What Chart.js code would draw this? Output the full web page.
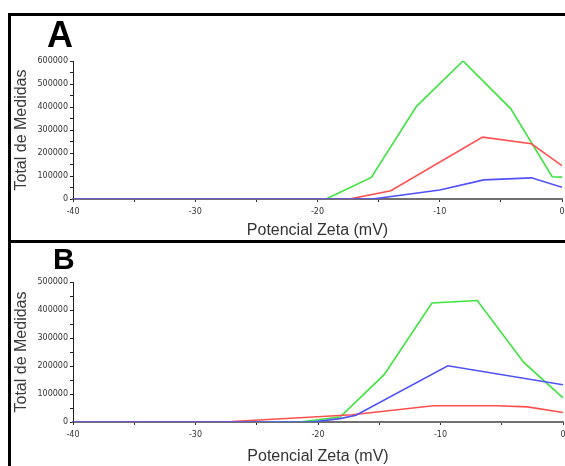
<!DOCTYPE html>
<html>
<head>
<meta charset="utf-8">
<script src="https://cdn.jsdelivr.net/npm/chart.js@4.4.1/dist/chart.umd.min.js"></script>
<style>
  body { margin: 0; background: #fff; width: 565px; height: 466px; overflow: hidden; position: relative; font-family: "Liberation Sans", Arial, sans-serif; }
  .line { position: absolute; background: #000; }
  .panel { position: absolute; left: 11px; }
  .tag { position: absolute; font-weight: bold; color: #000; line-height: 1; }
</style>
</head>
<body>
<div class="line" style="left:8px;top:13px;width:557px;height:3px"></div>
<div class="line" style="left:8px;top:240px;width:557px;height:3px"></div>
<div class="line" style="left:8px;top:13px;width:3px;height:453px"></div>

<!-- canvases run a little past the right edge, like the cropped original -->
<canvas id="chartA" class="panel" width="560" height="224" style="top:16px"></canvas>
<canvas id="chartB" class="panel" width="560" height="223" style="top:243px"></canvas>

<div class="tag" style="left:47px;top:17px;font-size:36px">A</div>
<div class="tag" style="left:53px;top:244px;font-size:30px">B</div>

<script>
// tick labels
const xLabels = [-40, -30, -20, -10, 0];
const yLabelsA = [0, 100000, 200000, 300000, 400000, 500000, 600000];
const yLabelsB = [0, 100000, 200000, 300000, 400000, 500000];

// panel A
const zetaA_green = [-40, -19.3, -15.6, -11.9, -8.1, -4.2, -0.8, 0];
const countA_green = [0, 0, 94000, 403000, 600000, 393000, 97000, 95000];
const zetaA_red = [-40, -17.4, -14.0, -6.5, -2.5, 0];
const countA_red = [0, 0, 36000, 269000, 240000, 145000];
const zetaA_blue = [-40, -15.5, -10.0, -6.4, -2.5, 0];
const countA_blue = [0, 0, 39000, 83000, 92000, 51000];

// panel B
const zetaB_green = [-40, -21.5, -18.2, -14.6, -10.7, -7.0, -3.2, 0];
const countB_green = [0, 0, 18000, 169000, 425000, 434000, 213000, 86000];
const zetaB_red = [-40, -27.0, -20.4, -17.2, -10.6, -5.4, -2.9, 0];
const countB_red = [0, 2000, 18000, 26000, 58000, 58000, 54000, 34000];
const zetaB_blue = [-40, -20.5, -18.2, -16.9, -9.4, 0];
const countB_blue = [0, 0, 12000, 24000, 201000, 133000];

const GREEN = "#3fe33f", RED = "#ff4f4f", BLUE = "#5050ff";

function pts(xs, ys) {
  return xs.map((x, i) => ({ x, y: ys[i] }));
}

function makePanel(id, yMax, yLabels, series, pad, axisH) {
  new Chart(document.getElementById(id), {
    type: "line",
    data: {
      // blue first so it is drawn on top
      datasets: [
        { data: pts(series.blue[0], series.blue[1]), borderColor: BLUE },
        { data: pts(series.red[0], series.red[1]), borderColor: RED },
        { data: pts(series.green[0], series.green[1]), borderColor: GREEN }
      ].map(d => Object.assign(d, { borderWidth: 1.6, pointRadius: 0, tension: 0, fill: false }))
    },
    options: {
      responsive: false,
      animation: false,
      devicePixelRatio: 1,
      layout: { padding: pad },
      plugins: { legend: { display: false }, tooltip: { enabled: false } },
      scales: {
        x: {
          type: "linear",
          min: -40,
          max: 0,
          afterFit: s => { s.height = axisH; },
          ticks: {
            stepSize: 5,
            padding: 5,
            maxRotation: 0,
            autoSkip: false,
            color: "#333",
            font: { family: "DejaVu Sans", size: 8 },
            callback: v => xLabels.includes(v) ? String(v) : ""
          },
          grid: { drawOnChartArea: false, drawTicks: true, tickLength: 3, color: "#333" },
          border: { display: true, color: "#707070", width: 2 },
          title: {
            display: true,
            text: "Potencial Zeta (mV)",
            color: "#333",
            font: { family: "Liberation Sans", size: 16 },
            padding: { top: 0, bottom: 0 }
          }
        },
        y: {
          min: 0,
          max: yMax,
          afterFit: s => { s.width = 62; },
          ticks: {
            stepSize: 50000,
            padding: 2,
            autoSkip: false,
            color: "#333",
            font: { family: "DejaVu Sans", size: 8 },
            callback: v => yLabels.includes(v) ? String(v) : ""
          },
          grid: { drawOnChartArea: false, drawTicks: true, tickLength: 3, color: "#222" },
          border: { display: true, color: "#222", width: 1 },
          title: {
            display: true,
            text: "Total de Medidas",
            color: "#3a3a3a",
            font: { family: "Liberation Sans", size: 16 },
            padding: { top: 1, bottom: 0 }
          }
        }
      }
    }
  });
}

makePanel("chartA", 600000, yLabelsA, {
  green: [zetaA_green, countA_green],
  red: [zetaA_red, countA_red],
  blue: [zetaA_blue, countA_blue]
}, { top: 45, right: 9, left: 0, bottom: 0 }, 41);

makePanel("chartB", 500000, yLabelsB, {
  green: [zetaB_green, countB_green],
  red: [zetaB_red, countB_red],
  blue: [zetaB_blue, countB_blue]
}, { top: 39, right: 8, left: 0, bottom: 0 }, 44);
</script>
</body>
</html>
